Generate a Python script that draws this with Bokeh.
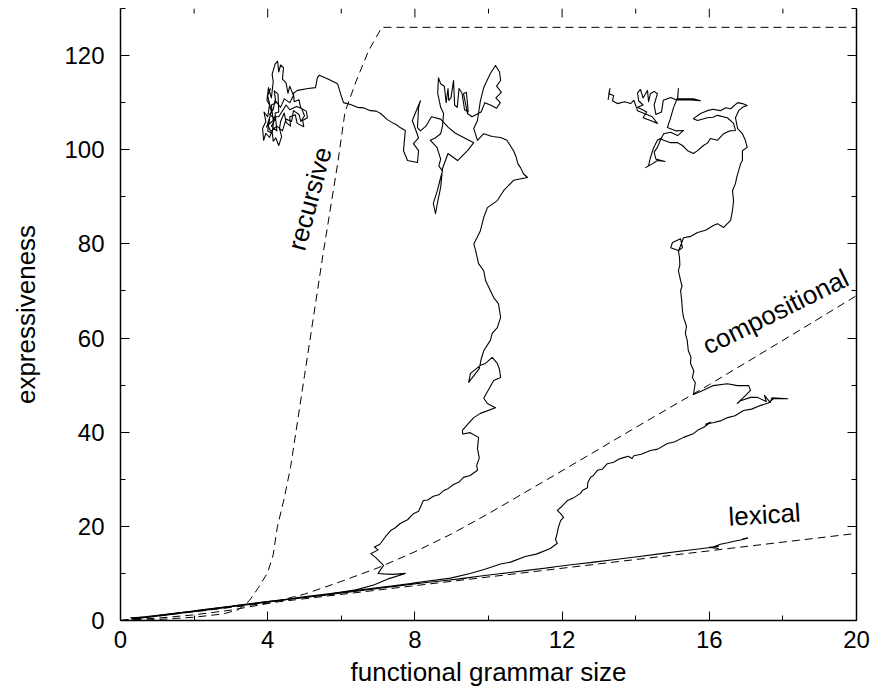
from bokeh.plotting import figure
from bokeh.models import Range1d, LinearAxis, SingleIntervalTicker
from bokeh.core.properties import value
from bokeh.embed import file_html
from bokeh.resources import INLINE

# ---------------- data ----------------
x_ticks = [0, 4, 8, 12, 16, 20]
x_minor_ticks = [2, 6, 10, 14, 18]
y_ticks = [0, 20, 40, 60, 80, 100, 120]

# reference curves (dashed)
lexical_x = [0, 20]
lexical_y = [0, 18.5]
compositional_x = [0, 1, 2, 3, 4, 5, 6, 7, 8, 9, 10, 12, 14, 16, 18, 20]
compositional_y = [0, 0.5, 1.2, 2.2, 3.6, 5.6, 8.3, 11.2, 14.6, 18.4, 22.7, 31.8, 41.0, 50.1, 59.5, 69.0]
recursive_x = [0, 1, 2, 2.8, 3.2, 3.5, 3.75, 4.0, 4.15, 4.26, 4.45, 4.62, 5.0, 5.52, 5.9, 6.1, 6.4, 6.74, 7.1, 20]
recursive_y = [0, 0.2, 0.7, 1.4, 2.3, 4.2, 7.0, 10.2, 14.0, 19.8, 26.0, 32.5, 52.0, 78.6, 97.0, 108.0, 114.5, 121.0, 126.0, 126.0]

# trajectory that stays lexical
walk_lexical = [
    (0.27, 0.55), (0.7, 0.75), (1.2, 1.25), (1.05, 1.1), (1.7, 1.75), (2.3, 2.3), (2.1, 2.15),
    (2.8, 2.8), (3.5, 3.45), (3.3, 3.3), (4.0, 4.0), (4.6, 4.5), (4.4, 4.35), (5.1, 5.0),
    (5.8, 5.6), (5.6, 5.5), (6.3, 6.1), (7.0, 6.8), (6.8, 6.65), (7.5, 7.3), (8.2, 7.95),
    (8.0, 7.8), (8.7, 8.4), (9.4, 9.0), (9.2, 8.85), (9.9, 9.55), (10.6, 10.2), (10.4, 10.0),
    (11.1, 10.7), (11.8, 11.35), (11.6, 11.2), (12.3, 11.9), (13.0, 12.5), (12.8, 12.35),
    (13.5, 13.0), (14.2, 13.7), (14.0, 13.5), (14.7, 14.2), (15.3, 14.8), (15.1, 14.6),
    (15.7, 15.2), (16.03, 15.5), (16.25, 15.3), (16.0, 15.55), (16.25, 15.75), (16.1, 15.6),
    (16.3, 16.2), (16.5, 16.5), (16.7, 16.9), (16.85, 17.1), (17.04, 17.5), (16.9, 17.3),
]

# trajectory that becomes compositional
walk_compositional = [
    (0.3, 0.45), (0.9, 1.0), (1.6, 1.65), (1.45, 1.5), (2.4, 2.45), (3.2, 3.25), (3.05, 3.1),
    (4.0, 4.05), (4.9, 4.9), (4.75, 4.8), (5.6, 5.6), (6.5, 6.45), (6.35, 6.35), (7.3, 7.25),
    (8.1, 8.05), (7.95, 7.95), (8.97, 9.0), (9.5, 10.0), (9.9, 10.9), (10.33, 12.0), (10.6, 12.4),
    (11.0, 13.6), (11.3, 14.1), (11.68, 15.3), (11.87, 16.4), (11.82, 17.2), (11.85, 18.0),
    (11.9, 19.8), (11.96, 21.2), (12.04, 21.9), (11.96, 22.7), (11.87, 23.4), (11.96, 24.0),
    (12.15, 25.5), (12.3, 26.0), (12.5, 27.0), (12.55, 27.6), (12.69, 28.2), (12.7, 29.3),
    (12.77, 30.4), (12.85, 30.8), (12.96, 31.9), (13.1, 32.2), (13.23, 33.3), (13.4, 33.6),
    (13.55, 34.3), (13.67, 34.6), (13.8, 34.9), (13.9, 34.4), (13.95, 35.0), (14.15, 35.3),
    (14.4, 36.1), (14.6, 36.4), (14.86, 37.6), (15.05, 37.9), (15.3, 38.9), (15.55, 39.6),
    (15.7, 40.5), (15.84, 41.0), (16.03, 42.1), (15.9, 41.7), (16.1, 42.0), (16.3, 42.4),
    (16.5, 43.1), (16.7, 43.5), (16.93, 44.6), (17.15, 44.9), (17.4, 45.7), (17.6, 46.2),
    (17.74, 47.1), (18.13, 47.1), (17.7, 47.3), (17.66, 46.3), (17.5, 47.8), (17.55, 46.5),
    (17.3, 47.4), (17.12, 47.4), (16.85, 46.7), (16.76, 46.1), (16.93, 47.4), (17.12, 48.9),
    (17.07, 49.9), (16.76, 49.9), (16.49, 50.3), (16.11, 49.9), (15.84, 48.9), (15.68, 48.4),
    (15.57, 48.0), (15.62, 50.5), (15.54, 51.6), (15.58, 53.0), (15.49, 54.6), (15.5, 56.0),
    (15.43, 57.3), (15.4, 59.5), (15.35, 61.0), (15.38, 62.5), (15.3, 64.4), (15.27, 65.8),
    (15.25, 68.0), (15.22, 70.1), (15.26, 71.0), (15.22, 72.2), (15.16, 74.3), (15.2, 75.5),
    (15.19, 77.1), (15.16, 78.6), (14.95, 79.2), (15.0, 80.3), (15.22, 81.1), (15.27, 79.2),
    (15.17, 78.6), (15.3, 81.3), (15.5, 81.6), (15.68, 82.4), (15.9, 82.9), (16.11, 83.9),
    (16.22, 84.3), (16.39, 83.5), (16.58, 85.0), (16.63, 87.1), (16.66, 89.2), (16.63, 91.3),
    (16.71, 92.8), (16.75, 94.3), (16.8, 95.6), (16.85, 97.0), (16.9, 97.7), (16.9, 99.8),
    (17.03, 100.5), (16.98, 102.0), (16.9, 103.4), (16.77, 104.5), (16.71, 106.8),
    (16.8, 108.3), (16.9, 109.0), (17.03, 109.4), (16.9, 109.8), (16.77, 110.0), (16.58, 108.7),
    (16.45, 108.9), (16.3, 108.3), (16.1, 108.6), (15.95, 108.3), (15.76, 107.7), (15.57, 106.6),
    (15.68, 106.2), (15.95, 106.8), (16.1, 106.9), (16.22, 107.3), (16.49, 106.8), (16.66, 105.6),
    (16.71, 104.1), (16.55, 104.0), (16.39, 103.4), (16.22, 102.0), (16.03, 102.4), (15.95, 101.4),
    (15.84, 100.9), (15.68, 99.8), (15.57, 99.2), (15.41, 99.8), (15.27, 100.9), (15.14, 101.5),
    (14.95, 101.5), (14.76, 102.0), (14.67, 102.4), (14.59, 102.0), (14.48, 100.3),
    (14.4, 98.3), (14.35, 96.6), (14.27, 96.2), (14.45, 97.0), (14.59, 97.7), (14.8, 97.5),
    (14.55, 98.0), (14.5, 99.5), (14.59, 100.5), (14.67, 102.0), (14.76, 103.4), (14.95, 103.7),
    (15.14, 103.0), (15.3, 104.1), (15.1, 104.0), (14.86, 104.7), (14.95, 106.8), (15.03, 109.0),
    (15.14, 111.1), (15.16, 113.0), (15.14, 110.8), (15.3, 110.8), (15.57, 110.8), (15.76, 110.4),
    (15.5, 110.6), (15.1, 110.6), (14.95, 111.1), (14.75, 110.5), (14.7, 108.0), (14.55, 107.5),
    (14.5, 109.5), (14.59, 111.9), (14.5, 112.4), (14.4, 111.9), (14.35, 110.2), (14.32, 112.6),
    (14.2, 111.0), (14.13, 112.8), (14.05, 112.1), (14.08, 110.4), (14.2, 109.5), (14.05, 109.0),
    (14.3, 108.0), (14.2, 106.8), (14.4, 106.2), (14.59, 105.6), (14.45, 107.0), (14.05, 108.3),
    (13.95, 110.5), (13.86, 109.8), (13.7, 110.2), (13.5, 109.8), (13.37, 110.4), (13.4, 111.5),
    (13.27, 111.9), (13.3, 113.0), (13.25, 110.6),
]

# trajectory that becomes recursive
walk_recursive = [
    (0.3, 0.3), (0.8, 0.75), (1.5, 1.4), (1.35, 1.3), (2.2, 2.1), (3.0, 2.9), (2.85, 2.8),
    (3.7, 3.6), (4.5, 4.4), (4.35, 4.3), (5.2, 5.1), (5.9, 5.8), (5.75, 5.7), (6.4, 6.5),
    (6.9, 7.6), (7.3, 8.9), (7.74, 10.0), (7.4, 9.8), (7.15, 9.9), (7.0, 10.0), (7.15, 11.7),
    (6.93, 13.4), (6.8, 14.2), (7.0, 15.0), (6.9, 15.6), (7.05, 16.2), (7.2, 17.8), (7.34, 19.1),
    (7.45, 19.6), (7.6, 20.6), (7.8, 21.4), (7.96, 22.7), (8.1, 23.2), (8.23, 25.5), (8.35, 25.6),
    (8.5, 26.4), (8.65, 26.7), (8.78, 27.6), (8.9, 28.0), (9.05, 28.9), (9.2, 29.4), (9.32, 30.4),
    (9.5, 30.8), (9.7, 31.9), (9.68, 33.0), (9.75, 34.5), (9.7, 36.5), (9.73, 38.9), (9.5, 39.9),
    (9.3, 39.6), (9.29, 40.4), (9.45, 41.8), (9.6, 43.1), (9.78, 44.0), (10.19, 45.2),
    (9.97, 46.1), (9.87, 47.2), (10.0, 49.0), (10.14, 51.0), (10.33, 51.6), (10.3, 53.3),
    (10.24, 54.6), (10.1, 55.9), (9.92, 54.6), (9.78, 54.2), (9.51, 52.5), (9.46, 50.6),
    (9.55, 51.5), (9.75, 53.5), (9.8, 55.5), (9.87, 57.3), (10.05, 59.5), (10.1, 61.0),
    (10.24, 62.2), (10.33, 64.4), (10.27, 67.3), (10.14, 68.6), (10.05, 70.1), (9.92, 72.2),
    (9.87, 74.3), (9.73, 75.8), (9.65, 78.6), (9.6, 80.0), (9.7, 81.5), (9.78, 82.8),
    (9.87, 85.6), (9.97, 87.7), (10.24, 89.2), (10.41, 91.3), (10.68, 93.5), (11.06, 94.1),
    (10.95, 94.9), (10.87, 96.2), (10.8, 97.0), (10.75, 98.5), (10.68, 99.8), (10.5, 102.0),
    (10.33, 102.6), (10.1, 102.8), (9.87, 103.4), (9.7, 102.0), (9.6, 104.5), (9.7, 106.2),
    (9.78, 110.4), (9.87, 113.2), (10.05, 116.2), (10.19, 117.9), (10.3, 116.5), (10.33, 114.7),
    (10.22, 113.5), (10.35, 112.2), (10.2, 111.0), (10.32, 110.0), (10.22, 108.8), (10.05, 109.5),
    (9.9, 110.0), (9.8, 108.0), (9.55, 107.0), (9.43, 107.7), (9.32, 111.9), (9.4, 112.2),
    (9.45, 108.0), (9.35, 108.5), (9.28, 112.0), (9.2, 113.0), (9.15, 109.0), (9.08, 109.5),
    (9.05, 114.7), (8.98, 111.0), (8.92, 110.5), (8.9, 113.0), (8.85, 110.0), (8.8, 113.5),
    (8.7, 114.0), (8.64, 115.3), (8.62, 112.0), (8.7, 109.0), (8.78, 107.7), (8.75, 105.0),
    (8.7, 103.4), (8.55, 102.5), (8.42, 102.0), (8.6, 100.5), (8.7, 98.0), (8.65, 96.5),
    (8.75, 95.5), (8.7, 94.1), (8.61, 91.3), (8.5, 88.6), (8.56, 86.4), (8.62, 89.0),
    (8.7, 92.0), (8.75, 96.0), (8.9, 99.2), (9.16, 97.7), (9.43, 99.8), (9.6, 101.5),
    (9.35, 102.5), (9.1, 103.5), (8.9, 104.8), (8.7, 106.5), (8.45, 107.0), (8.3, 105.0),
    (8.15, 104.0), (8.07, 104.7), (8.1, 109.0), (8.15, 110.4), (7.93, 106.2), (8.1, 102.5),
    (7.96, 101.3), (8.1, 99.8), (8.07, 97.3), (7.8, 97.7), (7.69, 99.8), (7.74, 104.1),
    (7.6, 104.7), (7.5, 105.3), (7.42, 105.6), (7.25, 106.4), (7.07, 107.7), (6.95, 108.2),
    (6.79, 108.3), (6.6, 108.9), (6.44, 109.0), (6.25, 109.6), (6.06, 110.0), (5.98, 111.9),
    (5.9, 114.0), (5.62, 115.1), (5.4, 115.8), (5.35, 115.3), (5.3, 113.2), (5.1, 113.0),
    (4.81, 112.6),
    (4.7, 112.0), (4.72, 110.2), (4.85, 110.6), (4.9, 108.8), (5.05, 108.2), (5.08, 106.8),
    (4.95, 106.2), (4.98, 104.9), (4.8, 105.6), (4.75, 107.4), (4.6, 107.0), (4.62, 105.0),
    (4.5, 105.8), (4.45, 107.8), (4.35, 106.0), (4.32, 104.5), (4.38, 102.8), (4.3, 100.9),
    (4.22, 102.5), (4.15, 101.8), (4.12, 104.0), (4.05, 102.6), (3.95, 103.5), (3.89, 102.0),
    (3.86, 104.5), (3.95, 106.0), (3.9, 108.0), (4.0, 107.0), (4.05, 109.5), (3.98, 110.5),
    (4.02, 113.2), (4.1, 111.0), (4.15, 114.5), (4.12, 116.0), (4.2, 118.2), (4.27, 118.8),
    (4.3, 116.5), (4.35, 118.0), (4.43, 117.4), (4.4, 115.0), (4.5, 114.2), (4.55, 112.0),
    (4.6, 113.5), (4.7, 111.5), (4.6, 110.0), (4.45, 110.8), (4.35, 109.0), (4.2, 110.5),
    (4.15, 108.5), (4.05, 107.5), (4.2, 106.5), (4.1, 105.0), (4.25, 104.0), (4.2, 107.8),
    (4.3, 108.0), (4.28, 111.8), (4.18, 112.5), (4.22, 110.0), (4.1, 109.5), (4.15, 106.2),
    (4.0, 105.2), (4.08, 104.0), (4.25, 105.0), (4.4, 104.0), (4.5, 106.5), (4.65, 106.0),
    (4.7, 108.3), (4.85, 107.5), (4.9, 106.0), (5.0, 107.2), (4.92, 108.8), (4.78, 109.2),
    (4.6, 108.5), (4.5, 109.5), (4.3, 107.0), (4.18, 107.0), (4.12, 103.5), (4.0, 104.0),
    (4.05, 106.5), (3.97, 104.8), (4.1, 108.0), (4.0, 111.5), (4.08, 113.0),
]

curve_labels = ["recursive", "compositional", "lexical"]

# ---------------- figure ----------------
FONT = "Liberation Sans"
Y_MAX = 130

p = figure(width=884, height=697, x_range=Range1d(0, 20), y_range=Range1d(0, Y_MAX),
           output_backend="svg", toolbar_location=None,
           min_border_left=120, min_border_right=28, min_border_top=8, min_border_bottom=77,
           background_fill_color="white", border_fill_color="white",
           outline_line_color=None)
p.xgrid.visible = False
p.ygrid.visible = False

dash = "8 5"
p.line(lexical_x, lexical_y, line_color="black", line_width=1, line_dash=dash)
p.line(compositional_x, compositional_y, line_color="black", line_width=1, line_dash=dash)
p.line(recursive_x, recursive_y, line_color="black", line_width=1, line_dash=dash)

for walk in (walk_lexical, walk_compositional, walk_recursive):
    p.line([pt[0] for pt in walk], [pt[1] for pt in walk], line_color="black",
           line_width=1.1, line_join="round")

# curve labels
p.text(x=[5.14, 17.8, 17.5], y=[89.6, 65.6, 22.5], text=curve_labels,
       angle=[1.31, 0.46, 0.06], text_font=value(FONT), text_font_size=value("26px"),
       text_align="center", text_baseline="middle", text_color="black")

def style_axis(ax, xaxis):
    ax.ticker = SingleIntervalTicker(interval=4 if xaxis else 20, num_minor_ticks=2)
    ax.major_tick_in = 9
    ax.major_tick_out = 0
    ax.minor_tick_in = 5
    ax.minor_tick_out = 0
    ax.major_tick_line_color = "black"
    ax.minor_tick_line_color = "black"
    ax.axis_line_color = "black"
    ax.axis_line_width = 1.5
    ax.major_label_text_font = FONT
    ax.major_label_text_font_size = "24px"
    ax.major_label_text_color = "black"

style_axis(p.xaxis[0], True)
style_axis(p.yaxis[0], False)
p.xaxis[0].axis_label = "functional grammar size"
p.yaxis[0].axis_label = "expressiveness"
for ax in (p.xaxis[0], p.yaxis[0]):
    ax.axis_label_text_font = FONT
    ax.axis_label_text_font_size = "26px"
    ax.axis_label_text_font_style = "normal"
    ax.axis_label_text_color = "black"
p.xaxis[0].major_label_standoff = 10
p.xaxis[0].axis_label_standoff = 6
p.yaxis[0].major_label_standoff = 16
p.yaxis[0].axis_label_standoff = 20

# tick marks on the right side (no labels drawn)
right = LinearAxis()
style_axis(right, False)
right.major_label_text_font_size = "1px"
right.major_label_text_alpha = 0
right.major_label_standoff = 0
p.add_layout(right, "right")

# inward tick marks along the open top edge (frame height 612 px)
major_len = 9 * Y_MAX / 612
minor_len = 5 * Y_MAX / 612
p.segment(x0=x_ticks, y0=[Y_MAX] * len(x_ticks), x1=x_ticks,
          y1=[Y_MAX - major_len] * len(x_ticks), line_color="black", line_width=1)
p.segment(x0=x_minor_ticks, y0=[Y_MAX] * len(x_minor_ticks), x1=x_minor_ticks,
          y1=[Y_MAX - minor_len] * len(x_minor_ticks), line_color="black", line_width=1)

open("out.html", "w").write(file_html(p, INLINE))
